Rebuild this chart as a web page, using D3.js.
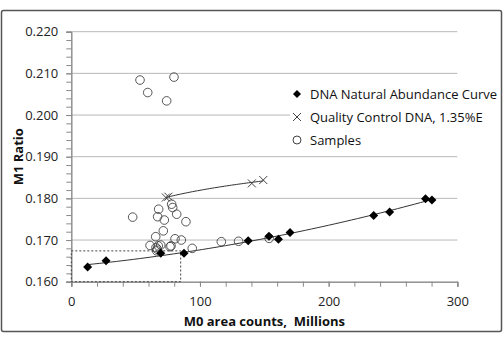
<!DOCTYPE html>
<html>
<head>
<meta charset="utf-8">
<script src="https://cdn.jsdelivr.net/npm/d3@7"></script>
<style>
body { margin: 0; background: #fff; }
text { font-family: 'Open Sans', 'Noto Sans', sans-serif; }
.tick text { font-size: 13px; fill: #222; }
.axis-title { font-size: 13px; font-weight: bold; fill: #111; }
.legend text { font-size: 13px; fill: #111; }
</style>
</head>
<body>
<div id="chart"></div>
<script>
let width = 504
let height = 343

// DNA natural abundance curve (M0 counts, M1 ratio)
let curveX = [12.7, 27, 69.5, 87.6, 137.5, 153.6, 161, 170, 235, 247.4, 275.3, 280.3]
let curveY = [0.1635, 0.1650, 0.1668, 0.1668, 0.1698, 0.1709, 0.1702, 0.1718, 0.1759, 0.1767, 0.1799, 0.1796]

// quality control DNA
let qcX = [73.5, 75.5, 140.3, 149.2]
let qcY = [0.1802, 0.1804, 0.1836, 0.1844]

// samples
let sampleX = [53.4, 59.4, 74.1, 79.8, 47.7, 67.9, 67.1, 72.3, 78, 78.8, 81.9, 89.1, 71.5, 65.6, 80.6, 85.5,
	61.2, 65.8, 66.4, 67.6, 69.5, 76.7, 77.5, 94, 116.6, 130, 153.8, 66.8]
let sampleY = [0.2084, 0.2054, 0.2034, 0.2091, 0.1755, 0.1774, 0.1756, 0.1748, 0.1786, 0.1778, 0.1762, 0.1744, 0.1722, 0.1708, 0.1703, 0.1700,
	0.1687, 0.1682, 0.1674, 0.1686, 0.1688, 0.1684, 0.1686, 0.1680, 0.1696, 0.1697, 0.1704, 0.1678]

let xTicks = [0, 100, 200, 300]
let yTicks = [0.160, 0.170, 0.180, 0.190, 0.200, 0.210, 0.220]

// dashed box in data units
let boxX = [0, 85]
let boxY = [0.160, 0.1674]

let legendLabels = ['DNA Natural Abundance Curve', 'Quality Control DNA, 1.35%E', 'Samples']

let margins = {
	'top': 31.7,
	'right': 46.7,
	'bottom': 61.3,
	'left': 71.3,
}
let iw = width - margins.left - margins.right
let ih = height - margins.top - margins.bottom

let xScale = d3.scaleLinear().domain([0, 300]).range([0, iw])
let yScale = d3.scaleLinear().domain([0.160, 0.220]).range([ih, 0])

let svg = d3.select('#chart').append('svg')
	.attr('width', width)
	.attr('height', height)

svg.append('rect')
	.attr('x', 1.5).attr('y', 10.5)
	.attr('width', 500).attr('height', 321)
	.attr('rx', 2)
	.attr('fill', '#fff')
	.attr('stroke', '#555')
	.attr('stroke-width', 1.5)

let inner = svg.append('g')
	.attr('transform', 'translate(' + margins.left + ',' + margins.top + ')')

// gridlines
inner.append('g').selectAll('line')
	.data(yTicks.slice(1))
	.enter().append('line')
	.attr('x1', 0).attr('x2', iw)
	.attr('y1', d => yScale(d)).attr('y2', d => yScale(d))
	.attr('stroke', '#b8b8b8')

// minor ticks
let yMinor = d3.range(0, 31).map(i => 0.160 + i * 0.002)
let xMinor = d3.range(0, 16).map(i => i * 20)

let yAxisMinor = inner.append('g')
	.call(d3.axisLeft(yScale).tickValues(yMinor).tickSize(5).tickFormat(''))
let xAxisMinor = inner.append('g')
	.attr('transform', `translate(0,${ih})`)
	.call(d3.axisBottom(xScale).tickValues(xMinor).tickSize(5).tickFormat(''))

let yAxis = inner.append('g')
	.call(d3.axisLeft(yScale).tickValues(yTicks).tickSize(5).tickPadding(8).tickFormat(d3.format('.3f')))
let xAxis = inner.append('g')
	.attr('transform', `translate(0,${ih})`)
	.call(d3.axisBottom(xScale).tickValues(xTicks).tickSize(5).tickPadding(10))

inner.selectAll('.domain, .tick line').attr('stroke', '#8a8a8a')

// dashed box
inner.append('rect')
	.attr('x', xScale(boxX[0]))
	.attr('y', yScale(boxY[1]))
	.attr('width', xScale(boxX[1]) - xScale(boxX[0]))
	.attr('height', yScale(boxY[0]) - yScale(boxY[1]))
	.attr('fill', 'none')
	.attr('stroke', '#444')
	.attr('stroke-dasharray', '2,2')

// least squares fits for the trendlines
function polyFit2(xs, ys) {
	let n = xs.length
	let s = [0, 0, 0, 0, 0], t = [0, 0, 0]
	for (let i = 0; i < n; i++) {
		let p = 1
		for (let k = 0; k < 5; k++) { s[k] += p; if (k < 3) t[k] += p * ys[i]; p *= xs[i] }
	}
	let A = [[s[0], s[1], s[2], t[0]], [s[1], s[2], s[3], t[1]], [s[2], s[3], s[4], t[2]]]
	for (let i = 0; i < 3; i++) {
		for (let j = i + 1; j < 3; j++) {
			let f = A[j][i] / A[i][i]
			for (let k = i; k < 4; k++) A[j][k] -= f * A[i][k]
		}
	}
	let c = [0, 0, 0]
	for (let i = 2; i >= 0; i--) {
		let v = A[i][3]
		for (let k = i + 1; k < 3; k++) v -= A[i][k] * c[k]
		c[i] = v / A[i][i]
	}
	return x => c[0] + c[1] * x + c[2] * x * x
}
function logFit(xs, ys) {
	let lx = xs.map(Math.log)
	let mx = d3.mean(lx), my = d3.mean(ys)
	let b = d3.sum(lx, (v, i) => (v - mx) * (ys[i] - my)) / d3.sum(lx, v => (v - mx) * (v - mx))
	return x => my + b * (Math.log(x) - mx)
}

let line = d3.line().x(d => xScale(d[0])).y(d => yScale(d[1]))

let f1 = polyFit2(curveX, curveY)
let pts1 = d3.range(0, 61).map(i => {
	let x = d3.min(curveX) + (d3.max(curveX) - d3.min(curveX)) * i / 60
	return [x, f1(x)]
})
let f2 = logFit(qcX, qcY)
let pts2 = d3.range(0, 41).map(i => {
	let x = d3.min(qcX) + (d3.max(qcX) - d3.min(qcX)) * i / 40
	return [x, f2(x)]
})

let marks = inner.append('g')
marks.append('path').attr('d', line(pts1)).attr('fill', 'none').attr('stroke', '#333').attr('stroke-width', 1)
marks.append('path').attr('d', line(pts2)).attr('fill', 'none').attr('stroke', '#333').attr('stroke-width', 1)

marks.append('g').selectAll('circle')
	.data(sampleX.map((x, i) => [x, sampleY[i]]))
	.enter().append('circle')
	.attr('cx', d => xScale(d[0]))
	.attr('cy', d => yScale(d[1]))
	.attr('r', 4.3)
	.attr('fill', 'none')
	.attr('stroke', '#444')
	.attr('stroke-width', 0.9)

let crossPath = 'M-4,-4L4,4M-4,4L4,-4'
marks.append('g').selectAll('path')
	.data(qcX.map((x, i) => [x, qcY[i]]))
	.enter().append('path')
	.attr('d', crossPath)
	.attr('transform', d => `translate(${xScale(d[0])},${yScale(d[1])})`)
	.attr('stroke', '#444')
	.attr('stroke-width', 1)

let diamondPath = 'M0,-4.5L4.5,0L0,4.5L-4.5,0Z'
marks.append('g').selectAll('path')
	.data(curveX.map((x, i) => [x, curveY[i]]))
	.enter().append('path')
	.attr('d', diamondPath)
	.attr('transform', d => `translate(${xScale(d[0])},${yScale(d[1])})`)
	.attr('fill', '#000')

// axis titles
svg.append('text')
	.attr('class', 'axis-title')
	.attr('x', margins.left + iw / 2 + 0)
	.attr('y', 326)
	.attr('text-anchor', 'middle')
	.attr('xml:space', 'preserve')
	.text('M0 area counts,  Millions')

svg.append('text')
	.attr('class', 'axis-title')
	.attr('transform', 'translate(23,' + (margins.top + ih / 2) + ') rotate(-90)')
	.attr('text-anchor', 'middle')
	.text('M1 Ratio')

// legend
let legend = svg.append('g').attr('class', 'legend')
legend.append('rect')
	.attr('x', 290).attr('y', 80).attr('width', 210).attr('height', 72)
	.attr('fill', '#fff')
let rows = legend.selectAll('g')
	.data(legendLabels)
	.enter().append('g')
	.attr('transform', (d, i) => `translate(297,${94 + i * 23})`)
rows.append('text')
	.attr('x', 13).attr('dy', '0.35em')
	.text(d => d)
legend.append('path').attr('d', 'M0,-4L4,0L0,4L-4,0Z').attr('transform', 'translate(297,94)').attr('fill', '#000')
legend.append('path').attr('d', 'M-4,-4L4,4M-4,4L4,-4').attr('transform', 'translate(297,117)').attr('stroke', '#444')
legend.append('circle').attr('cx', 297).attr('cy', 140).attr('r', 4).attr('fill', 'none').attr('stroke', '#444')
</script>
</body>
</html>
